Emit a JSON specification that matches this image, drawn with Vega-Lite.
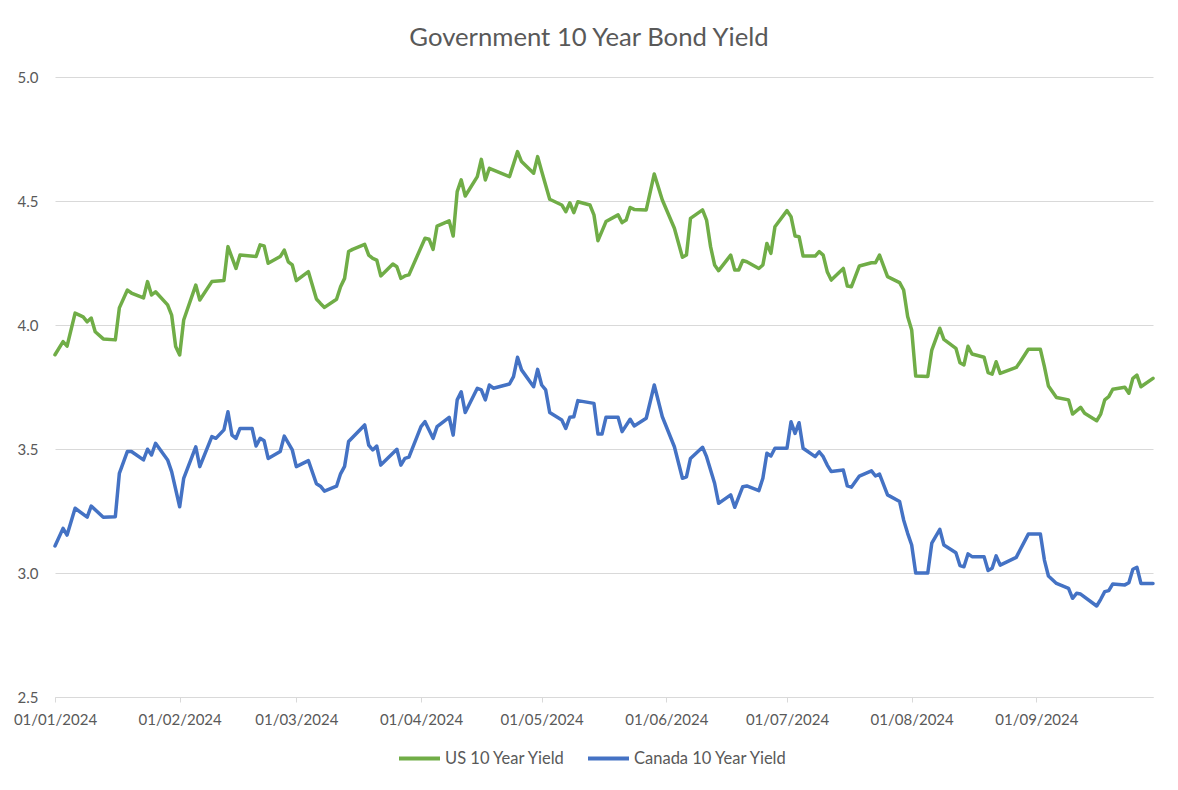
{
 "$schema": "https://vega.github.io/schema/vega-lite/v6.json",
 "width": 1098, "height": 620,
 "autosize": {"type": "none"},
 "padding": {"left": 55, "top": 77, "right": 25, "bottom": 93},
 "background": "white",
 "title": {"text": "Government 10 Year Bond Yield", "font": "Lato", "fontSize": 25.7, "fontWeight": "normal", "color": "#595959", "anchor": "middle", "frame": "group", "offset": 30, "baseline": "alphabetic", "dx": -15, "dy": 32},
 "datasets": {
  "us": [
   {"date":"2024-01-01","yield":3.88},{"date":"2024-01-03","yield":3.933},{"date":"2024-01-04","yield":3.915},{"date":"2024-01-06","yield":4.048},{"date":"2024-01-08","yield":4.033},{"date":"2024-01-09","yield":4.013},{"date":"2024-01-10","yield":4.028},{"date":"2024-01-11","yield":3.973},{"date":"2024-01-13","yield":3.944},{"date":"2024-01-16","yield":3.94},{"date":"2024-01-17","yield":4.069},{"date":"2024-01-19","yield":4.141},{"date":"2024-01-20","yield":4.129},{"date":"2024-01-23","yield":4.109},{"date":"2024-01-24","yield":4.175},{"date":"2024-01-25","yield":4.121},{"date":"2024-01-26","yield":4.134},{"date":"2024-01-29","yield":4.081},{"date":"2024-01-30","yield":4.04},{"date":"2024-01-31","yield":3.913},
   {"date":"2024-02-01","yield":3.879},{"date":"2024-02-02","yield":4.02},{"date":"2024-02-05","yield":4.161},{"date":"2024-02-06","yield":4.101},{"date":"2024-02-09","yield":4.175},{"date":"2024-02-12","yield":4.179},{"date":"2024-02-13","yield":4.316},{"date":"2024-02-15","yield":4.228},{"date":"2024-02-16","yield":4.282},{"date":"2024-02-20","yield":4.276},{"date":"2024-02-21","yield":4.323},{"date":"2024-02-22","yield":4.319},{"date":"2024-02-23","yield":4.249},{"date":"2024-02-26","yield":4.276},{"date":"2024-02-27","yield":4.302},{"date":"2024-02-28","yield":4.255},{"date":"2024-02-29","yield":4.242},
   {"date":"2024-03-01","yield":4.179},{"date":"2024-03-04","yield":4.215},{"date":"2024-03-06","yield":4.105},{"date":"2024-03-07","yield":4.087},{"date":"2024-03-08","yield":4.071},{"date":"2024-03-11","yield":4.104},{"date":"2024-03-12","yield":4.154},{"date":"2024-03-13","yield":4.188},{"date":"2024-03-14","yield":4.296},{"date":"2024-03-15","yield":4.305},{"date":"2024-03-18","yield":4.325},{"date":"2024-03-19","yield":4.282},{"date":"2024-03-20","yield":4.269},{"date":"2024-03-21","yield":4.262},{"date":"2024-03-22","yield":4.198},{"date":"2024-03-25","yield":4.246},{"date":"2024-03-26","yield":4.235},{"date":"2024-03-27","yield":4.188},{"date":"2024-03-28","yield":4.198},{"date":"2024-03-29","yield":4.202},
   {"date":"2024-04-02","yield":4.35},{"date":"2024-04-03","yield":4.346},{"date":"2024-04-04","yield":4.305},{"date":"2024-04-05","yield":4.399},{"date":"2024-04-08","yield":4.42},{"date":"2024-04-09","yield":4.359},{"date":"2024-04-10","yield":4.538},{"date":"2024-04-11","yield":4.585},{"date":"2024-04-12","yield":4.52},{"date":"2024-04-15","yield":4.598},{"date":"2024-04-16","yield":4.668},{"date":"2024-04-17","yield":4.585},{"date":"2024-04-18","yield":4.632},{"date":"2024-04-23","yield":4.598},{"date":"2024-04-25","yield":4.699},{"date":"2024-04-26","yield":4.659},{"date":"2024-04-29","yield":4.612},{"date":"2024-04-30","yield":4.679},
   {"date":"2024-05-01","yield":4.62},{"date":"2024-05-03","yield":4.507},{"date":"2024-05-06","yield":4.484},{"date":"2024-05-07","yield":4.457},{"date":"2024-05-08","yield":4.493},{"date":"2024-05-09","yield":4.453},{"date":"2024-05-10","yield":4.497},{"date":"2024-05-13","yield":4.484},{"date":"2024-05-14","yield":4.444},{"date":"2024-05-15","yield":4.34},{"date":"2024-05-17","yield":4.417},{"date":"2024-05-20","yield":4.444},{"date":"2024-05-21","yield":4.413},{"date":"2024-05-22","yield":4.423},{"date":"2024-05-23","yield":4.474},{"date":"2024-05-24","yield":4.466},{"date":"2024-05-27","yield":4.464},{"date":"2024-05-29","yield":4.609},{"date":"2024-05-31","yield":4.504},
   {"date":"2024-06-03","yield":4.39},{"date":"2024-06-05","yield":4.273},{"date":"2024-06-06","yield":4.282},{"date":"2024-06-07","yield":4.43},{"date":"2024-06-10","yield":4.464},{"date":"2024-06-11","yield":4.423},{"date":"2024-06-12","yield":4.316},{"date":"2024-06-13","yield":4.242},{"date":"2024-06-14","yield":4.219},{"date":"2024-06-17","yield":4.282},{"date":"2024-06-18","yield":4.222},{"date":"2024-06-19","yield":4.222},{"date":"2024-06-20","yield":4.26},{"date":"2024-06-21","yield":4.255},{"date":"2024-06-24","yield":4.228},{"date":"2024-06-25","yield":4.242},{"date":"2024-06-26","yield":4.329},{"date":"2024-06-27","yield":4.289},{"date":"2024-06-28","yield":4.396},
   {"date":"2024-07-01","yield":4.461},{"date":"2024-07-02","yield":4.437},{"date":"2024-07-03","yield":4.359},{"date":"2024-07-04","yield":4.356},{"date":"2024-07-05","yield":4.278},{"date":"2024-07-08","yield":4.278},{"date":"2024-07-09","yield":4.296},{"date":"2024-07-10","yield":4.282},{"date":"2024-07-11","yield":4.215},{"date":"2024-07-12","yield":4.181},{"date":"2024-07-15","yield":4.228},{"date":"2024-07-16","yield":4.157},{"date":"2024-07-17","yield":4.154},{"date":"2024-07-19","yield":4.238},{"date":"2024-07-22","yield":4.251},{"date":"2024-07-23","yield":4.251},{"date":"2024-07-24","yield":4.282},{"date":"2024-07-26","yield":4.195},{"date":"2024-07-29","yield":4.171},{"date":"2024-07-30","yield":4.141},{"date":"2024-07-31","yield":4.034},
   {"date":"2024-08-01","yield":3.98},{"date":"2024-08-02","yield":3.794},{"date":"2024-08-05","yield":3.792},{"date":"2024-08-06","yield":3.899},{"date":"2024-08-08","yield":3.987},{"date":"2024-08-09","yield":3.942},{"date":"2024-08-12","yield":3.906},{"date":"2024-08-13","yield":3.848},{"date":"2024-08-14","yield":3.839},{"date":"2024-08-15","yield":3.914},{"date":"2024-08-16","yield":3.883},{"date":"2024-08-19","yield":3.87},{"date":"2024-08-20","yield":3.808},{"date":"2024-08-21","yield":3.802},{"date":"2024-08-22","yield":3.852},{"date":"2024-08-23","yield":3.805},{"date":"2024-08-27","yield":3.829},{"date":"2024-08-28","yield":3.852},{"date":"2024-08-30","yield":3.902},
   {"date":"2024-09-02","yield":3.902},{"date":"2024-09-03","yield":3.832},{"date":"2024-09-04","yield":3.754},{"date":"2024-09-06","yield":3.708},{"date":"2024-09-09","yield":3.698},{"date":"2024-09-10","yield":3.641},{"date":"2024-09-12","yield":3.668},{"date":"2024-09-13","yield":3.644},{"date":"2024-09-16","yield":3.614},{"date":"2024-09-17","yield":3.641},{"date":"2024-09-18","yield":3.698},{"date":"2024-09-19","yield":3.711},{"date":"2024-09-20","yield":3.741},{"date":"2024-09-23","yield":3.749},{"date":"2024-09-24","yield":3.725},{"date":"2024-09-25","yield":3.785},{"date":"2024-09-26","yield":3.798},{"date":"2024-09-27","yield":3.751},{"date":"2024-09-30","yield":3.785}
  ],
  "ca": [
   {"date":"2024-01-01","yield":3.109},{"date":"2024-01-03","yield":3.18},{"date":"2024-01-04","yield":3.153},{"date":"2024-01-06","yield":3.261},{"date":"2024-01-09","yield":3.225},{"date":"2024-01-10","yield":3.27},{"date":"2024-01-13","yield":3.225},{"date":"2024-01-16","yield":3.227},{"date":"2024-01-17","yield":3.402},{"date":"2024-01-19","yield":3.49},{"date":"2024-01-20","yield":3.49},{"date":"2024-01-23","yield":3.456},{"date":"2024-01-24","yield":3.499},{"date":"2024-01-25","yield":3.476},{"date":"2024-01-26","yield":3.523},{"date":"2024-01-29","yield":3.456},{"date":"2024-01-30","yield":3.409},
   {"date":"2024-02-01","yield":3.267},{"date":"2024-02-02","yield":3.382},{"date":"2024-02-05","yield":3.509},{"date":"2024-02-06","yield":3.429},{"date":"2024-02-09","yield":3.55},{"date":"2024-02-10","yield":3.543},{"date":"2024-02-12","yield":3.577},{"date":"2024-02-13","yield":3.65},{"date":"2024-02-14","yield":3.556},{"date":"2024-02-15","yield":3.543},{"date":"2024-02-16","yield":3.583},{"date":"2024-02-19","yield":3.583},{"date":"2024-02-20","yield":3.512},{"date":"2024-02-21","yield":3.543},{"date":"2024-02-22","yield":3.533},{"date":"2024-02-23","yield":3.462},{"date":"2024-02-26","yield":3.49},{"date":"2024-02-27","yield":3.552},{"date":"2024-02-29","yield":3.496},
   {"date":"2024-03-01","yield":3.429},{"date":"2024-03-04","yield":3.453},{"date":"2024-03-06","yield":3.36},{"date":"2024-03-07","yield":3.35},{"date":"2024-03-08","yield":3.33},{"date":"2024-03-11","yield":3.35},{"date":"2024-03-12","yield":3.4},{"date":"2024-03-13","yield":3.43},{"date":"2024-03-14","yield":3.53},{"date":"2024-03-18","yield":3.597},{"date":"2024-03-19","yield":3.516},{"date":"2024-03-20","yield":3.496},{"date":"2024-03-21","yield":3.512},{"date":"2024-03-22","yield":3.435},{"date":"2024-03-26","yield":3.499},{"date":"2024-03-27","yield":3.435},{"date":"2024-03-28","yield":3.462},{"date":"2024-03-29","yield":3.467},
   {"date":"2024-04-01","yield":3.59},{"date":"2024-04-02","yield":3.61},{"date":"2024-04-03","yield":3.577},{"date":"2024-04-04","yield":3.543},{"date":"2024-04-05","yield":3.59},{"date":"2024-04-08","yield":3.628},{"date":"2024-04-09","yield":3.556},{"date":"2024-04-10","yield":3.698},{"date":"2024-04-11","yield":3.731},{"date":"2024-04-12","yield":3.647},{"date":"2024-04-15","yield":3.745},{"date":"2024-04-16","yield":3.738},{"date":"2024-04-17","yield":3.698},{"date":"2024-04-18","yield":3.758},{"date":"2024-04-19","yield":3.745},{"date":"2024-04-23","yield":3.762},{"date":"2024-04-24","yield":3.792},{"date":"2024-04-25","yield":3.87},{"date":"2024-04-26","yield":3.819},{"date":"2024-04-29","yield":3.751},{"date":"2024-04-30","yield":3.821},
   {"date":"2024-05-01","yield":3.758},{"date":"2024-05-02","yield":3.738},{"date":"2024-05-03","yield":3.647},{"date":"2024-05-06","yield":3.617},{"date":"2024-05-07","yield":3.583},{"date":"2024-05-08","yield":3.628},{"date":"2024-05-09","yield":3.63},{"date":"2024-05-10","yield":3.695},{"date":"2024-05-14","yield":3.684},{"date":"2024-05-15","yield":3.56},{"date":"2024-05-16","yield":3.56},{"date":"2024-05-17","yield":3.628},{"date":"2024-05-20","yield":3.628},{"date":"2024-05-21","yield":3.57},{"date":"2024-05-23","yield":3.62},{"date":"2024-05-24","yield":3.593},{"date":"2024-05-27","yield":3.624},{"date":"2024-05-29","yield":3.758},{"date":"2024-05-31","yield":3.63},
   {"date":"2024-06-03","yield":3.509},{"date":"2024-06-05","yield":3.382},{"date":"2024-06-06","yield":3.388},{"date":"2024-06-07","yield":3.462},{"date":"2024-06-10","yield":3.507},{"date":"2024-06-11","yield":3.469},{"date":"2024-06-13","yield":3.362},{"date":"2024-06-14","yield":3.281},{"date":"2024-06-17","yield":3.315},{"date":"2024-06-18","yield":3.265},{"date":"2024-06-20","yield":3.348},{"date":"2024-06-21","yield":3.351},{"date":"2024-06-24","yield":3.332},{"date":"2024-06-25","yield":3.382},{"date":"2024-06-26","yield":3.483},{"date":"2024-06-27","yield":3.472},{"date":"2024-06-28","yield":3.503},
   {"date":"2024-07-01","yield":3.503},{"date":"2024-07-02","yield":3.61},{"date":"2024-07-03","yield":3.563},{"date":"2024-07-04","yield":3.606},{"date":"2024-07-05","yield":3.503},{"date":"2024-07-08","yield":3.469},{"date":"2024-07-09","yield":3.489},{"date":"2024-07-10","yield":3.469},{"date":"2024-07-11","yield":3.435},{"date":"2024-07-12","yield":3.409},{"date":"2024-07-15","yield":3.415},{"date":"2024-07-16","yield":3.351},{"date":"2024-07-17","yield":3.346},{"date":"2024-07-19","yield":3.391},{"date":"2024-07-22","yield":3.412},{"date":"2024-07-23","yield":3.391},{"date":"2024-07-24","yield":3.399},{"date":"2024-07-26","yield":3.315},{"date":"2024-07-29","yield":3.288},{"date":"2024-07-30","yield":3.214},{"date":"2024-07-31","yield":3.16},
   {"date":"2024-08-01","yield":3.113},{"date":"2024-08-02","yield":3.0},{"date":"2024-08-05","yield":3.0},{"date":"2024-08-06","yield":3.12},{"date":"2024-08-08","yield":3.176},{"date":"2024-08-09","yield":3.113},{"date":"2024-08-12","yield":3.082},{"date":"2024-08-13","yield":3.03},{"date":"2024-08-14","yield":3.025},{"date":"2024-08-15","yield":3.077},{"date":"2024-08-16","yield":3.066},{"date":"2024-08-19","yield":3.066},{"date":"2024-08-20","yield":3.01},{"date":"2024-08-21","yield":3.019},{"date":"2024-08-22","yield":3.069},{"date":"2024-08-23","yield":3.032},{"date":"2024-08-27","yield":3.063},{"date":"2024-08-28","yield":3.095},{"date":"2024-08-30","yield":3.157},
   {"date":"2024-09-02","yield":3.157},{"date":"2024-09-03","yield":3.052},{"date":"2024-09-04","yield":2.988},{"date":"2024-09-06","yield":2.958},{"date":"2024-09-09","yield":2.938},{"date":"2024-09-10","yield":2.898},{"date":"2024-09-11","yield":2.918},{"date":"2024-09-12","yield":2.915},{"date":"2024-09-16","yield":2.867},{"date":"2024-09-17","yield":2.894},{"date":"2024-09-18","yield":2.925},{"date":"2024-09-19","yield":2.929},{"date":"2024-09-20","yield":2.956},{"date":"2024-09-23","yield":2.952},{"date":"2024-09-24","yield":2.961},{"date":"2024-09-25","yield":3.015},{"date":"2024-09-26","yield":3.023},{"date":"2024-09-27","yield":2.958},{"date":"2024-09-30","yield":2.958}
  ]
 },
 "encoding": {
  "x": {"field": "date", "type": "temporal",
   "scale": {"type": "utc", "domain": [{"year": 2024, "month": 1, "date": 1, "utc": true}, {"year": 2024, "month": 9, "date": 30, "utc": true}]},
   "axis": {"title": null, "grid": false, "format": "%d/%m/%Y", "labelFont": "Lato", "labelFontSize": 15, "labelColor": "#595959", "domainColor": "#d9d9d9", "tickColor": "#d9d9d9", "tickSize": 5, "labelPadding": 10, "labelFlush": false, "labelOverlap": false,
    "values": [{"year":2024,"month":1,"date":1,"utc":true},{"year":2024,"month":2,"date":1,"utc":true},{"year":2024,"month":3,"date":1,"utc":true},{"year":2024,"month":4,"date":1,"utc":true},{"year":2024,"month":5,"date":1,"utc":true},{"year":2024,"month":6,"date":1,"utc":true},{"year":2024,"month":7,"date":1,"utc":true},{"year":2024,"month":8,"date":1,"utc":true},{"year":2024,"month":9,"date":1,"utc":true}]}},
  "y": {"field": "yield", "type": "quantitative",
   "scale": {"domain": [2.5, 5], "nice": false, "zero": false},
   "axis": {"title": null, "values": [2.5, 3, 3.5, 4, 4.5, 5], "format": ".1f", "grid": true, "gridColor": "#d9d9d9", "gridWidth": 1, "domain": false, "ticks": false, "labelPadding": 17, "labelFont": "Lato", "labelFontSize": 15, "labelColor": "#595959"}}
 },
 "layer": [
  {"data": {"name": "us"},
   "mark": {"type": "line", "strokeWidth": 3.5, "strokeJoin": "round", "strokeCap": "round"},
   "encoding": {"color": {"datum": "US 10 Year Yield", "type": "nominal",
     "scale": {"domain": ["US 10 Year Yield", "Canada 10 Year Yield"], "range": ["#70AD47", "#4472C4"]},
     "legend": {"orient": "none", "legendX": 342, "legendY": 659, "direction": "horizontal", "title": null, "symbolType": "stroke", "symbolSize": 1681, "symbolStrokeWidth": 4, "labelFont": "Lato", "labelFontSize": 16.5, "labelColor": "#595959", "labelOffset": 3, "columnPadding": 14}}}},
  {"data": {"name": "ca"},
   "mark": {"type": "line", "strokeWidth": 3.5, "strokeJoin": "round", "strokeCap": "round"},
   "encoding": {"color": {"datum": "Canada 10 Year Yield", "type": "nominal"}}}
 ],
 "config": {"view": {"stroke": null}, "font": "Lato"}
}
